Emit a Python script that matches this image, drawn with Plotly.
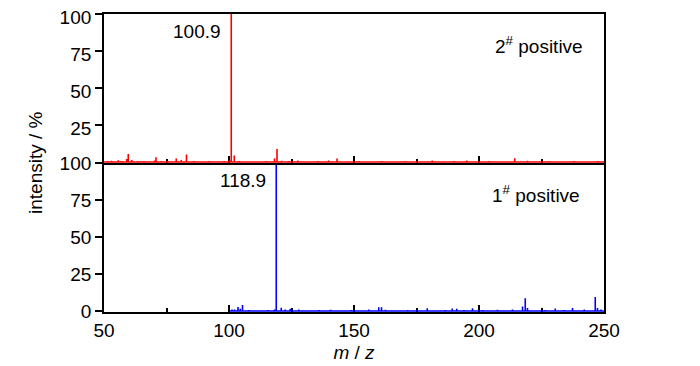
import plotly.graph_objects as go

# ---- data ----
# sample 2# positive (top panel, red)
mz_2 = [51.5, 53.0, 55.7, 57.0, 59.1, 59.7, 61.1, 63.5, 66.0, 68.0, 70.2, 70.8, 73.0, 75.5,
        78.9, 80.9, 83.0, 86.0, 89.5, 92.0, 95.0, 98.0, 100.2, 100.9, 102.1, 104.0, 108.0,
        111.5, 115.0, 118.2, 119.2, 121.0, 124.0, 127.5, 131.0, 135.5, 139.9, 143.2, 147.0,
        152.0, 156.5, 161.0, 166.0, 170.5, 176.0, 181.3, 185.5, 190.0, 195.1, 199.0, 204.0,
        209.0, 214.3, 219.4, 223.0, 228.0, 233.0, 238.0, 243.0, 247.5]
int_2 = [0.6, 0.8, 1.1, 0.6, 2.0, 5.4, 1.3, 0.6, 0.7, 0.5, 1.0, 3.2, 0.6, 0.7,
         2.3, 1.3, 5.0, 0.6, 0.5, 0.6, 0.5, 0.6, 1.2, 100.0, 4.3, 0.6, 0.5,
         0.5, 0.6, 2.3, 8.8, 0.8, 0.6, 1.0, 0.5, 0.6, 1.0, 2.3, 0.5,
         0.6, 0.5, 0.6, 0.5, 0.6, 0.5, 1.0, 0.5, 0.6, 1.0, 0.5, 0.6,
         0.5, 2.5, 0.8, 0.5, 0.6, 0.5, 0.6, 0.5, 0.6]

# sample 1# positive (bottom panel, blue)
mz_1 = [101.2, 102.2, 103.6, 104.5, 105.4, 108.0, 112.0, 115.5, 118.2, 118.9, 120.9, 122.5,
        124.5, 127.9, 132.0, 136.0, 140.6, 145.0, 149.0, 152.5, 155.9, 159.9, 161.0, 162.6,
        167.0, 171.5, 175.5, 179.3, 183.0, 186.5, 189.3, 191.1, 194.0, 197.4, 201.5, 204.0,
        207.4, 210.5, 213.4, 217.4, 218.5, 219.4, 222.5, 226.5, 230.5, 234.0, 237.4, 242.1,
        246.5, 247.4, 248.8]
int_1 = [1.0, 1.0, 2.7, 1.5, 4.0, 0.6, 0.5, 0.6, 1.0, 100.0, 2.2, 1.0,
         1.5, 1.0, 0.5, 0.6, 0.8, 0.5, 0.6, 0.5, 1.0, 2.5, 2.5, 0.8,
         0.5, 0.6, 0.5, 1.8, 0.5, 0.6, 1.6, 1.5, 0.6, 1.8, 0.6, 0.5,
         0.8, 0.5, 1.0, 3.0, 8.6, 2.0, 0.5, 0.6, 1.6, 0.6, 2.0, 1.0,
         9.5, 2.0, 1.0]

start_2, start_1, end_mz = 50.0, 100.2, 250.0

x_ticks_major = [50, 100, 150, 200, 250]
y_ticks_top = [25, 50, 75, 100]
y_ticks_bottom = [0, 25, 50, 75, 100]

labels = [("100.9", 100.9, "y2"), ("118.9", 118.9, "y")]


def stick_path(mz, inten, start, end):
    xs, ys = [start], [0]
    for m, i in zip(mz, inten):
        xs += [m, m, m]
        ys += [0, i, 0]
    xs.append(end)
    ys.append(0)
    return xs, ys


FONT = "Liberation Sans, Arial, sans-serif"

fig = go.Figure()
x2, y2 = stick_path(mz_2, int_2, start_2, end_mz)
x1, y1 = stick_path(mz_1, int_1, start_1, end_mz)
fig.add_trace(go.Scatter(x=x2, y=y2, mode="lines", xaxis="x2", yaxis="y2",
                         line=dict(color="#ff0000", width=1.6), hoverinfo="skip",
                         showlegend=False))
fig.add_trace(go.Scatter(x=x1, y=y1, mode="lines", xaxis="x", yaxis="y",
                         line=dict(color="#0000ff", width=1.6), hoverinfo="skip",
                         showlegend=False))

axis_common = dict(showgrid=False, zeroline=False, showline=True, linecolor="black",
                   linewidth=1.8, tickcolor="black", tickwidth=1.5, automargin=False,
                   ticklabeloverflow="allow",
                   tickfont=dict(family=FONT, size=19, color="black"))

minor_x = dict(dtick=25, tick0=50, ticks="inside", ticklen=4,
               tickcolor="black", tickwidth=1.5)

fig.update_layout(
    width=700, height=366,
    margin=dict(l=96, r=104, t=6, b=62),
    paper_bgcolor="white", plot_bgcolor="white",
    font=dict(family=FONT, size=19, color="black"),
    xaxis=dict(domain=[0, 1], anchor="y", range=[50, 250], tickvals=x_ticks_major,
               ticks="inside", ticklen=7, layer="below traces", minor=minor_x,
               title=dict(text="<i>m</i> / <i>z</i>", font=dict(family=FONT, size=19),
                          standoff=6),
               **axis_common),
    yaxis=dict(domain=[0, 0.5], anchor="x", range=[-0.7, 100], tickvals=y_ticks_bottom,
               ticks="outside", ticklen=7, mirror=True, **axis_common),
    xaxis2=dict(domain=[0, 1], anchor="y2", matches="x", range=[50, 250],
                tickvals=x_ticks_major, showticklabels=False, ticks="inside", ticklen=7,
                mirror=True, layer="below traces", minor=minor_x, **axis_common),
    yaxis2=dict(domain=[0.5, 1], anchor="x2", range=[-0.7, 100], tickvals=y_ticks_top,
                ticks="outside", ticklen=7, mirror=True, ticklabelshift=3,
                **axis_common),
)

fig.add_annotation(text="intensity / %", xref="paper", yref="paper", x=-0.138, y=0.5,
                   textangle=-90, showarrow=False, xanchor="center", yanchor="middle",
                   font=dict(family=FONT, size=19))

for txt, mz, yr in labels:
    fig.add_annotation(text=txt, x=mz, y=88, xref="x" if yr == "y" else "x2", yref=yr,
                       showarrow=False, xanchor="right", yanchor="middle", xshift=-8,
                       font=dict(family=FONT, size=19))

fig.add_annotation(text="2<sup>#</sup> positive", xref="paper", yref="y2", x=0.962, y=79,
                   showarrow=False, xanchor="right", yanchor="middle",
                   font=dict(family=FONT, size=19))
fig.add_annotation(text="1<sup>#</sup> positive", xref="paper", yref="y", x=0.956, y=79,
                   showarrow=False, xanchor="right", yanchor="middle",
                   font=dict(family=FONT, size=19))

fig.write_html("out.html")
